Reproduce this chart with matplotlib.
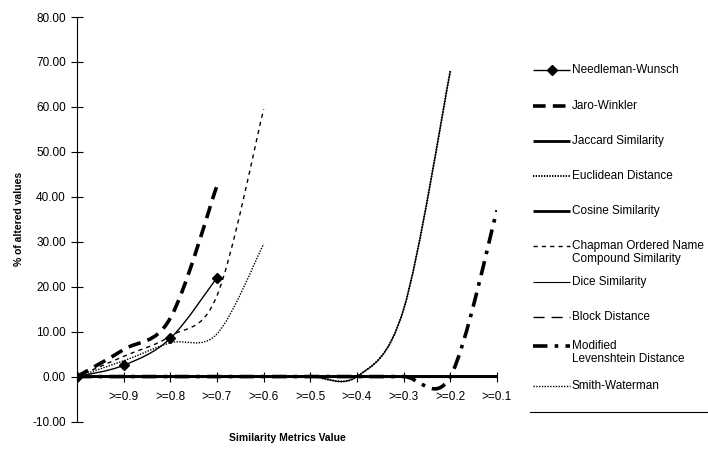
import numpy as np
import matplotlib
matplotlib.use('Agg')
import matplotlib.pyplot as plt
from matplotlib.path import Path
from matplotlib.patches import PathPatch
from matplotlib.lines import Line2D

nan = np.nan
categories = ["", ">=0.9", ">=0.8", ">=0.7", ">=0.6", ">=0.5", ">=0.4", ">=0.3", ">=0.2", ">=0.1"]

needleman = [0, 2.5, 8.5, 22, nan, nan, nan, nan, nan, nan]
jaro = [0, 6, 13, 42.5, nan, nan, nan, nan, nan, nan]
jaccard = [0, 0, 0, 0, 0, 0, 0, 0, 0, 0]
euclidean = [0, 0, 0, 0, 0, 0, 0, 15, 68, nan]
cosine = [0, 0, 0, 0, 0, 0, 0, 0, 0, 0]
chapman = [0, 4.5, 9, 18, 59.5, nan, nan, nan, nan, nan]
dice = [0, 0, 0, 0, 0, 0, 0, 15, 68, nan]
block = [0, 0, 0, 0, 0, 0, 0, 0, 0, 0]
modlev = [0, 0, 0, 0, 0, 0, 0, 0, 0, 37]
smith = [0, 3.5, 7.5, 9.5, 29.5, nan, nan, nan, nan, nan]

series_names = ["Needleman-Wunsch", "Jaro-Winkler", "Jaccard Similarity", "Euclidean Distance",
                "Cosine Similarity", "Chapman Ordered Name\nCompound Similarity", "Dice Similarity",
                "Block Distance", "Modified\nLevenshtein Distance", "Smith-Waterman"]

FONT = 'Liberation Sans'
plt.rcParams['font.family'] = [FONT, 'DejaVu Sans']

W, H = 708, 450
fig = plt.figure(figsize=(W / 100, H / 100), dpi=100)
x0, x1 = 77, 497
ytop, ybot = 17, 421.5
ax = fig.add_axes([x0 / W, 1 - ybot / H, (x1 - x0) / W, (ybot - ytop) / H])
ax.set_xlim(0, 9)
ax.set_ylim(-10, 80)


def smooth_path(xs, ys):
    pts = [(x, y) for x, y in zip(xs, ys) if not np.isnan(y)]
    P = np.array(pts, dtype=float)
    n = len(P)
    verts = [tuple(P[0])]
    codes = [Path.MOVETO]
    for i in range(n - 1):
        p_prev = P[i - 1] if i > 0 else P[i]
        p_next2 = P[i + 2] if i + 2 < n else P[i + 1]
        c1 = P[i] + (P[i + 1] - p_prev) / 6.0
        c2 = P[i + 1] - (p_next2 - P[i]) / 6.0
        verts += [tuple(c1), tuple(c2), tuple(P[i + 1])]
        codes += [Path.CURVE4] * 3
    return Path(verts, codes)


styles = [
    dict(lw=1.0, ls='-'),                       # Needleman
    dict(lw=2.6, ls=(0, (3.5, 2))),             # Jaro
    dict(lw=2.0, ls='-'),                       # Jaccard
    dict(lw=1.4, ls=(0, (0.7, 0.7))),           # Euclidean
    dict(lw=2.0, ls='-'),                       # Cosine
    dict(lw=1.0, ls=(0, (3, 3))),               # Chapman
    dict(lw=0.8, ls='-'),                       # Dice
    dict(lw=1.0, ls=(0, (8, 5))),               # Block
    dict(lw=2.6, ls=(0, (4, 2, 1, 2))),         # Modified Levenshtein
    dict(lw=1.0, ls=(0, (1, 1))),               # Smith-Waterman
]
data = [needleman, jaro, jaccard, euclidean, cosine, chapman, dice, block, modlev, smith]
xs = np.arange(len(categories))

for vals, st in zip(data, styles):
    p = smooth_path(xs, vals)
    ax.add_patch(PathPatch(p, fill=False, edgecolor='black', linewidth=st['lw'],
                           linestyle=st['ls'], capstyle='butt', joinstyle='round'))

nw = np.array(needleman, dtype=float)
m = ~np.isnan(nw)
ax.plot(xs[m], nw[m], linestyle='none', marker='D', markersize=5.5, color='black')

# axes styling
for s in ['top', 'right']:
    ax.spines[s].set_visible(False)
ax.spines['bottom'].set_position(('data', 0))
ax.spines['bottom'].set_linewidth(0.8)
ax.spines['left'].set_linewidth(0.8)
ax.set_xticks(xs)
ax.set_xticklabels(categories, fontsize=8.5)
ax.set_yticks(np.arange(-10, 81, 10))
ax.set_yticklabels([f"{v:.2f}" for v in np.arange(-10, 81, 10)], fontsize=8.5)
ax.tick_params(axis='x', direction='inout', length=7, width=0.8, pad=7)
ax.tick_params(axis='y', direction='inout', length=8, width=0.8, pad=4)
ax.patch.set_alpha(0)

fig.text(19 / W, 1 - 219 / H, "% of altered values", rotation=90, ha='center', va='center',
         fontsize=7.5, fontweight='bold')
fig.text(287 / W, 1 - 438 / H, "Similarity Metrics Value", ha='center', va='center',
         fontsize=7.5, fontweight='bold')

# legend (manual)
leg_y = [70, 106, 141, 176, 211, 246, 282, 317, 346, 386]
hx0, hx1 = 533, 570
for name, st, yy, i in zip(series_names, styles, leg_y, range(10)):
    fy = 1 - yy / H
    fig.add_artist(Line2D([hx0 / W, hx1 / W], [fy, fy], color='black', lw=st['lw'],
                          linestyle=st['ls'], solid_capstyle='butt', dash_capstyle='butt'))
    if i == 0:
        fig.add_artist(Line2D([(hx0 + hx1) / 2 / W], [fy], marker='D', markersize=5.5,
                              color='black', linestyle='none'))
    fig.text(572 / W, fy + 6 / H, name, ha='left', va='top', fontsize=8.5, linespacing=1.15)

fig.add_artist(Line2D([530 / W, 1.0], [1 - 412 / H, 1 - 412 / H], color='black', lw=0.8))

fig.savefig('out.png', dpi=100)
